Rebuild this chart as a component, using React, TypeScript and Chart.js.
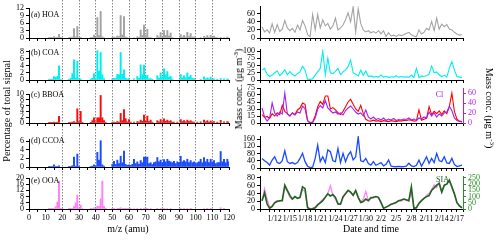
import React, { useEffect, useMemo, useRef } from "react";
import { Chart, registerables } from "chart.js";
Chart.register(...registerables);

const SERIF = "'Liberation Serif', 'Times New Roman', Times, serif";

// ---------------- Mass spectra: percentage of total signal ----------------
const hoaMz = [12, 13, 14, 15, 16, 17, 18, 19, 24, 25, 26, 27, 28, 29, 30, 31, 37, 38, 39, 40, 41, 42, 43, 44, 45, 50, 51, 52, 53, 54, 55, 56, 57, 58, 59, 63, 65, 66, 67, 68, 69, 70, 71, 72, 73, 77, 78, 79, 80, 81, 82, 83, 84, 85, 86, 91, 92, 93, 94, 95, 96, 97, 98, 99, 103, 105, 106, 107, 108, 109, 110, 111, 112, 113, 115, 117, 119, 120];
const hoaPct = [0.1, 0.1, 0.2, 0.6, 0.2, 0.3, 1.5, 0.1, 0.1, 0.2, 0.4, 3.8, 0.5, 4.6, 0.2, 0.1, 0.2, 0.3, 1.2, 0.3, 8.2, 1.0, 10.6, 0.5, 0.2, 0.2, 0.4, 0.2, 0.8, 0.6, 9.0, 1.2, 8.6, 0.4, 0.2, 0.2, 0.5, 0.3, 3.2, 1.0, 5.2, 1.0, 3.5, 0.3, 0.2, 1.0, 0.4, 2.2, 0.5, 3.0, 1.0, 3.0, 0.8, 2.0, 0.2, 1.4, 0.4, 1.1, 0.4, 2.3, 0.6, 1.8, 0.4, 0.5, 0.2, 0.7, 0.3, 1.0, 0.3, 1.1, 0.3, 0.8, 0.1, 0.2, 0.3, 0.2, 0.4, 0.2];

const coaMz = [12, 13, 14, 15, 16, 17, 18, 19, 24, 25, 26, 27, 28, 29, 30, 31, 37, 38, 39, 40, 41, 42, 43, 44, 45, 50, 51, 52, 53, 54, 55, 56, 57, 58, 59, 60, 63, 65, 66, 67, 68, 69, 70, 71, 72, 73, 74, 77, 78, 79, 80, 81, 82, 83, 84, 85, 86, 91, 92, 93, 94, 95, 96, 97, 98, 99, 103, 105, 106, 107, 108, 109, 110, 111, 113, 115, 117, 119, 120];
const coaPct = [0.1, 0.1, 0.2, 1.0, 0.8, 1.0, 4.0, 0.1, 0.2, 0.5, 1.8, 5.7, 0.6, 5.3, 0.3, 0.3, 0.3, 0.5, 1.8, 0.4, 8.3, 2.5, 7.8, 1.5, 0.4, 0.3, 0.5, 0.4, 1.6, 1.5, 7.8, 1.6, 2.9, 0.5, 0.3, 0.4, 0.3, 1.0, 0.5, 4.3, 1.5, 4.2, 1.0, 1.3, 0.3, 0.4, 0.2, 1.2, 0.5, 2.0, 0.8, 3.2, 1.5, 2.4, 0.8, 1.0, 0.3, 1.6, 0.6, 1.2, 0.6, 2.0, 0.8, 1.3, 0.5, 0.4, 0.2, 0.9, 0.3, 0.6, 0.3, 0.8, 0.2, 0.3, 0.2, 0.4, 0.3, 0.3, 0.2];

const bboaMz = [12, 13, 14, 15, 16, 17, 18, 24, 25, 26, 27, 28, 29, 30, 31, 32, 37, 38, 39, 40, 41, 42, 43, 44, 45, 46, 50, 51, 52, 53, 54, 55, 56, 57, 58, 59, 60, 61, 63, 65, 66, 67, 68, 69, 70, 71, 72, 73, 74, 77, 78, 79, 80, 81, 82, 83, 84, 85, 86, 87, 89, 91, 92, 93, 94, 95, 96, 97, 98, 99, 101, 103, 105, 106, 107, 108, 109, 110, 111, 113, 115, 117, 119, 120];
const bboaPct = [0.1, 0.1, 0.2, 0.3, 0.2, 0.3, 2.3, 0.1, 0.2, 0.3, 0.5, 0.2, 4.9, 0.4, 4.0, 0.1, 0.2, 0.8, 1.8, 0.3, 1.8, 1.8, 9.5, 1.8, 0.8, 0.2, 0.2, 0.3, 0.2, 0.5, 0.3, 3.3, 0.8, 4.6, 1.5, 0.4, 1.2, 0.3, 0.3, 0.5, 0.3, 1.0, 0.6, 2.7, 0.6, 2.4, 0.5, 1.0, 0.3, 0.8, 0.4, 1.2, 0.4, 1.4, 0.6, 1.0, 0.5, 0.8, 0.3, 0.3, 0.3, 1.2, 0.5, 0.8, 0.4, 1.0, 0.5, 0.8, 0.4, 0.3, 0.3, 0.4, 1.0, 0.4, 0.8, 0.3, 0.7, 0.3, 0.5, 0.3, 0.9, 0.4, 0.5, 0.3];

const ccoaMz = [12, 13, 14, 15, 16, 17, 18, 24, 25, 26, 27, 28, 29, 30, 37, 38, 39, 40, 41, 42, 43, 44, 45, 50, 51, 52, 53, 54, 55, 56, 57, 58, 59, 60, 61, 62, 63, 64, 65, 66, 67, 68, 69, 70, 71, 72, 73, 74, 75, 76, 77, 78, 79, 80, 81, 82, 83, 84, 85, 86, 87, 88, 89, 90, 91, 92, 93, 94, 95, 96, 97, 98, 99, 100, 101, 102, 103, 104, 105, 106, 107, 108, 109, 110, 111, 112, 113, 114, 115, 116, 117, 118, 119, 120];
const ccoaPct = [0.1, 0.1, 0.1, 0.5, 0.1, 0.1, 0.3, 0.1, 0.1, 0.3, 2.3, 0.2, 3.0, 0.1, 0.1, 0.2, 0.5, 0.2, 3.4, 1.6, 6.1, 0.5, 0.2, 0.6, 1.3, 0.6, 1.6, 0.8, 2.5, 1.0, 3.7, 0.6, 0.4, 0.5, 0.4, 0.6, 1.8, 0.8, 1.2, 0.6, 1.5, 1.0, 2.3, 2.3, 2.3, 0.8, 1.0, 0.6, 1.0, 1.2, 2.2, 1.2, 1.6, 1.0, 1.7, 1.2, 1.8, 1.4, 1.2, 1.0, 1.3, 0.8, 1.2, 1.0, 2.5, 1.2, 1.5, 1.2, 1.8, 1.0, 1.5, 1.0, 1.2, 0.8, 1.0, 1.2, 1.8, 1.0, 2.2, 1.2, 1.8, 1.0, 1.8, 1.2, 1.5, 0.8, 1.0, 1.0, 3.6, 1.2, 1.8, 1.0, 1.8, 1.2];

const ooaMz = [12, 13, 14, 15, 16, 17, 18, 19, 20, 24, 25, 26, 27, 28, 29, 30, 31, 32, 37, 38, 39, 40, 41, 42, 43, 44, 45, 46, 50, 51, 53, 54, 55, 56, 57, 58, 59, 60, 61, 63, 65, 67, 69, 70, 71, 73, 77, 79, 81, 83, 85, 91, 93, 95, 97, 105, 107, 109, 115, 117];
const ooaPct = [0.2, 0.1, 0.2, 0.3, 1.5, 4.5, 18.0, 0.2, 0.3, 0.1, 0.2, 0.5, 1.5, 4.0, 9.0, 0.8, 2.5, 0.3, 0.2, 0.3, 0.8, 0.5, 1.8, 1.5, 6.5, 18.0, 1.8, 0.5, 0.1, 0.2, 0.4, 0.2, 0.8, 0.3, 0.5, 0.2, 0.3, 0.4, 0.2, 0.3, 0.3, 0.4, 0.5, 0.2, 0.4, 0.3, 0.4, 0.3, 0.4, 0.3, 0.3, 0.4, 0.2, 0.3, 0.2, 0.3, 0.2, 0.2, 0.8, 0.2];

const mzTickLabels = [0, 10, 20, 30, 40, 50, 60, 70, 80, 90, 100, 110, 120];

// ---------------- Time series (12-hourly, day of year; Jan 9 12:00 onward) ----------------
const SERIES_START_DAY = 9.5;
const SERIES_STEP_DAY = 0.5;
const hoaConc = [28, 15, 20, 12, 35, 14, 33, 16, 22, 43, 25, 18, 24, 14, 32, 20, 43, 30, 8, 3, 58, 20, 58, 25, 45, 30, 36, 22, 30, 49, 20, 25, 32, 45, 62, 40, 77, 15, 72, 36, 20, 15, 18, 13, 16, 12, 18, 10, 18, 4, 13, 5, 7, 4, 8, 6, 8, 11, 14, 8, 5, 3, 20, 10, 14, 24, 20, 41, 18, 49, 22, 34, 28, 33, 22, 20, 14, 10, 7, 8];
const coaConc = [34, 40, 20, 12, 17, 25, 32, 15, 24, 35, 18, 29, 20, 14, 22, 28, 48, 34, 3, 2, 4, 17, 29, 40, 100, 18, 75, 25, 22, 30, 40, 18, 28, 35, 46, 69, 25, 20, 14, 34, 16, 31, 12, 14, 10, 12, 10, 17, 10, 12, 9, 11, 10, 15, 9, 12, 10, 11, 10, 17, 9, 40, 8, 14, 12, 15, 20, 48, 25, 28, 18, 12, 16, 10, 40, 63, 35, 12, 10, 9];
const bboaConc = [18, 12, 14, 10, 20, 15, 22, 18, 38, 25, 20, 15, 22, 18, 28, 32, 43, 40, 5, 1, 2, 15, 35, 46, 40, 58, 58, 30, 33, 28, 22, 18, 25, 35, 45, 51, 40, 30, 25, 38, 20, 8, 5, 4, 6, 4, 5, 3, 5, 4, 3, 5, 4, 3, 5, 4, 6, 5, 7, 6, 4, 5, 28, 6, 8, 10, 35, 18, 25, 20, 26, 18, 26, 20, 35, 64, 25, 8, 4, 3];
const clConc = [30, 12, 4, 10, 40, 20, 14, 22, 18, 60, 18, 14, 20, 16, 22, 20, 34, 28, 4, 0, 1, 10, 28, 35, 30, 45, 30, 25, 20, 22, 18, 20, 16, 25, 30, 34, 28, 22, 18, 20, 14, 26, 12, 8, 12, 7, 9, 6, 10, 5, 8, 6, 9, 5, 7, 6, 8, 7, 10, 6, 8, 5, 10, 8, 12, 10, 22, 14, 20, 12, 18, 14, 20, 22, 33, 25, 10, 5, 3, 2];
const ccoaConc = [53, 40, 30, 16, 44, 62, 30, 25, 40, 95, 35, 25, 30, 22, 30, 53, 81, 35, 10, 2, 5, 53, 127, 35, 62, 30, 100, 90, 40, 35, 108, 30, 81, 35, 72, 90, 45, 62, 172, 40, 35, 53, 25, 16, 35, 15, 22, 30, 12, 20, 44, 10, 8, 7, 9, 7, 8, 10, 26, 12, 8, 15, 44, 10, 35, 62, 25, 53, 30, 81, 40, 35, 62, 28, 25, 53, 20, 8, 12, 16];
const ooaConc = [20, 52, 25, 5, 8, 18, 22, 20, 25, 55, 45, 30, 25, 32, 28, 30, 50, 45, 5, 0, 2, 5, 12, 18, 25, 30, 40, 60, 35, 25, 15, 12, 28, 42, 48, 42, 35, 45, 30, 18, 25, 45, 22, 30, 28, 32, 28, 15, 3, 5, 8, 12, 15, 18, 22, 20, 25, 22, 20, 45, 2, 4, 15, 22, 28, 35, 40, 50, 62, 55, 70, 45, 60, 65, 72, 55, 40, 15, 8, 3];
const siaConc = [67, 130, 40, 5, 20, 50, 60, 67, 67, 192, 150, 110, 80, 100, 85, 94, 178, 164, 10, 0, 2, 10, 33, 50, 67, 94, 122, 105, 117, 94, 40, 39, 100, 122, 150, 136, 110, 150, 94, 53, 60, 80, 67, 89, 95, 100, 94, 53, 5, 15, 25, 39, 45, 53, 67, 72, 80, 75, 67, 178, 5, 10, 45, 67, 85, 100, 108, 150, 170, 192, 206, 136, 192, 200, 233, 180, 122, 53, 25, 10];
const dateLabelDays = [12, 15, 18, 21, 24, 27, 30, 33, 36, 39, 42, 45, 48];

// ---------------- helpers ----------------
const tickFont = { family: SERIF, size: 8 };
const fixW = (w: number) => (s: any) => { s.width = w; s.paddingTop = 0; s.paddingBottom = 0; };
const fixH = (h: number) => (s: any) => { s.height = h; s.paddingLeft = 0; s.paddingRight = 0; };
const fmtDate = (d: number) => (d <= 31 ? `1/${d}` : `2/${d - 31}`);
const toPoints = (vals: number[]) => vals.map((v, i) => ({ x: SERIES_START_DAY + i * SERIES_STEP_DAY, y: v }));

const PAD_TOP = 6;
const LEFT_CANVAS_W = 250;
const RIGHT_CANVAS_X = 236;
const RIGHT_CANVAS_W = 264;

function yTicks(step: number, lastLabel: number, color: string) {
  return {
    stepSize: step, includeBounds: false, autoSkip: false, font: tickFont, color, padding: 2,
    callback: (v: number) => (v <= lastLabel + 1e-9 ? String(v) : ""),
  };
}

function specConfig(p: any) {
  return {
    type: "bar",
    data: {
      datasets: [{
        data: p.mz.map((m: number, i: number) => ({ x: m, y: p.pct[i] })),
        backgroundColor: p.color,
        borderWidth: 0,
        barThickness: 1.3,
      }],
    },
    options: {
      animation: false, responsive: false, events: [],
      layout: { padding: { left: 0, right: 21, top: PAD_TOP, bottom: 0 } },
      plugins: { legend: { display: false }, tooltip: { enabled: false } },
      scales: {
        x: {
          type: "linear", min: 0, max: 120, offset: false,
          ticks: {
            stepSize: 5, display: p.labels, autoSkip: false, maxRotation: 0, minRotation: 0,
            font: tickFont, color: "#000", padding: 1,
            callback: (v: number) => (mzTickLabels.includes(v) ? String(v) : ""),
          },
          grid: { offset: false, drawOnChartArea: false, drawTicks: true, tickLength: 3, tickColor: "#000", color: "#000" },
          border: { color: "#000", width: 1 },
          afterFit: fixH(p.labels ? 14 : 3),
        },
        y: {
          min: 0, max: p.max,
          ticks: yTicks(p.step, p.lastLabel, "#000"),
          grid: { drawOnChartArea: false, tickLength: 3, tickColor: "#000" },
          border: { color: "#000", width: 1 },
          afterFit: fixW(29),
        },
      },
    },
  };
}

function tsConfig(p: any) {
  const datasets: any[] = p.series.map((s: any) => ({
    data: toPoints(s.values), borderColor: s.color, borderWidth: s.width || 1.1,
    pointRadius: 0, tension: 0, fill: false, yAxisID: s.axis || "y",
  }));
  const scales: any = {
    x: {
      type: "linear", min: 9.1, max: 49.2,
      ticks: {
        stepSize: 1, display: p.labels, autoSkip: false, maxRotation: 0, minRotation: 0,
        font: tickFont, color: "#000", padding: 2,
        callback: (v: number) => (dateLabelDays.includes(v) ? fmtDate(v) : ""),
      },
      grid: { drawOnChartArea: false, drawTicks: true, tickLength: 3, tickColor: "#000", color: "#000" },
      border: { color: "#000", width: 1 },
      afterFit: fixH(p.labels ? 14 : 3),
    },
    y: {
      min: 0, max: p.max,
      ticks: yTicks(p.step, p.lastLabel, "#000"),
      grid: { drawOnChartArea: false, tickLength: 3, tickColor: "#000" },
      border: { color: "#000", width: 1 },
      afterFit: fixW(24),
    },
  };
  if (p.right) {
    scales.y2 = {
      position: "right", min: 0, max: p.right.max,
      ticks: yTicks(p.right.step, p.right.lastLabel, p.right.color),
      grid: { drawOnChartArea: false, tickLength: 3, tickColor: p.right.color },
      border: { color: p.right.color, width: 1 },
      afterFit: fixW(37),
    };
  }
  return {
    type: "line",
    data: { datasets },
    options: {
      animation: false, responsive: false, events: [],
      layout: { padding: { left: 0, right: p.right ? 0 : 37, top: PAD_TOP, bottom: 0 } },
      plugins: { legend: { display: false }, tooltip: { enabled: false } },
      scales,
    },
  };
}

function gridConfig() {
  return {
    type: "scatter",
    data: { datasets: [] },
    options: {
      animation: false, responsive: false, events: [],
      layout: { padding: { left: 29, right: 21, top: 0, bottom: 6 } },
      plugins: { legend: { display: false }, tooltip: { enabled: false } },
      scales: {
        x: {
          type: "linear", min: 0, max: 120,
          ticks: { stepSize: 10, display: false },
          grid: {
            drawTicks: false, lineWidth: 1,
            color: (c: any) => (c.tick && c.tick.value >= 20 && c.tick.value <= 110 ? "#8a8a8a" : "rgba(0,0,0,0)"),
          },
          border: { display: false, dash: [1.5, 1.5] },
          afterFit: fixH(0),
        },
        y: { display: false, min: 0, max: 1 },
      },
    },
  };
}

function ChartBox({ left, top, width, height, config }: any) {
  const ref = useRef<HTMLCanvasElement | null>(null);
  useEffect(() => {
    if (!ref.current) return;
    const chart = new Chart(ref.current, config);
    return () => chart.destroy();
  }, [config]);
  return (
    <canvas ref={ref} width={width} height={height}
      style={{ position: "absolute", left, top, width, height }} />
  );
}

function Txt({ x, y, size = 8, color = "#000", rotate = 0, anchor = "center", children }: any) {
  const tx = anchor === "left" ? "0" : "-50%";
  return (
    <div style={{
      position: "absolute", left: x, top: y, transform: `translate(${tx}, -50%) rotate(${rotate}deg)`,
      fontFamily: SERIF, fontSize: size, lineHeight: 1, color, whiteSpace: "nowrap",
    }}>{children}</div>
  );
}

const MassTitle = () => (
  <span>Mass conc. (μg m<sup style={{ fontSize: "0.7em", lineHeight: 0, verticalAlign: "super" }}>-3</sup>)</span>
);

export default function App() {
  const cfg = useMemo(() => {
    const left = [
      { key: "a", mz: hoaMz, pct: hoaPct, color: "#a3a3a3", max: 12, step: 3, lastLabel: 12, top: 8, bottom: 38, labels: false },
      { key: "b", mz: coaMz, pct: coaPct, color: "#00eeee", max: 8.5, step: 2, lastLabel: 8, top: 50, bottom: 80, labels: false },
      { key: "c", mz: bboaMz, pct: bboaPct, color: "#ff0a0a", max: 10, step: 2, lastLabel: 10, top: 94, bottom: 123, labels: false },
      { key: "d", mz: ccoaMz, pct: ccoaPct, color: "#1a4cff", max: 6.5, step: 2, lastLabel: 6, top: 139, bottom: 167, labels: false },
      { key: "e", mz: ooaMz, pct: ooaPct, color: "#ff80f4", max: 20, step: 4, lastLabel: 20, top: 178, bottom: 209, labels: true },
    ].map((p) => ({
      key: p.key, top: p.top - PAD_TOP,
      height: PAD_TOP + (p.bottom - p.top) + (p.labels ? 14 : 3),
      config: specConfig(p),
    }));
    const right = [
      { key: "ra", top: 6, bottom: 38, max: 79, step: 20, lastLabel: 60, labels: false,
        series: [{ values: hoaConc, color: "#a3a3a3" }] },
      { key: "rb", top: 49, bottom: 80, max: 107, step: 25, lastLabel: 100, labels: false,
        series: [{ values: coaConc, color: "#00eeee" }] },
      { key: "rc", top: 88, bottom: 123, max: 75, step: 15, lastLabel: 75, labels: false,
        right: { max: 70, step: 20, lastLabel: 60, color: "#b01ef0" },
        series: [{ values: clConc, color: "#a81ef0", axis: "y2" }, { values: bboaConc, color: "#ff0000" }] },
      { key: "rd", top: 136, bottom: 168, max: 177, step: 40, lastLabel: 160, labels: false,
        series: [{ values: ccoaConc, color: "#1a4cff", width: 1.3 }] },
      { key: "re", top: 176, bottom: 209, max: 85, step: 20, lastLabel: 80, labels: true,
        right: { max: 266, step: 50, lastLabel: 250, color: "#2a8a2a" },
        series: [{ values: siaConc, color: "#1c661c", axis: "y2", width: 1.6 }, { values: ooaConc, color: "#ff86f0", width: 1.3 }] },
    ].map((p) => ({
      key: p.key, top: p.top - PAD_TOP,
      height: PAD_TOP + (p.bottom - p.top) + (p.labels ? 14 : 3),
      config: tsConfig(p),
    }));
    return { left, right, grid: gridConfig() };
  }, []);

  return (
    <div style={{ position: "absolute", left: 0, top: 0, width: 500, height: 240, background: "#fff", overflow: "hidden" }}>
      <ChartBox left={0} top={0} width={LEFT_CANVAS_W} height={215} config={cfg.grid} />
      {cfg.left.map((p) => (
        <ChartBox key={p.key} left={0} top={p.top} width={LEFT_CANVAS_W} height={p.height} config={p.config} />
      ))}
      {cfg.right.map((p) => (
        <ChartBox key={p.key} left={RIGHT_CANVAS_X} top={p.top} width={RIGHT_CANVAS_W} height={p.height} config={p.config} />
      ))}
      <Txt x={31} y={15} anchor="left">(a) HOA</Txt>
      <Txt x={31} y={52.5} anchor="left">(b) COA</Txt>
      <Txt x={31} y={94.5} anchor="left">(c) BBOA</Txt>
      <Txt x={31} y={141} anchor="left">(d) CCOA</Txt>
      <Txt x={31} y={181} anchor="left">(e) OOA</Txt>
      <Txt x={439.5} y={94.5} color="#a81ef0">Cl</Txt>
      <Txt x={442.5} y={179.5} color="#1c661c">SIA</Txt>
      <Txt x={7} y={111} size={10} rotate={-90}>Percentage of total signal</Txt>
      <Txt x={128} y={229} size={10}>m/z (amu)</Txt>
      <Txt x={371} y={229} size={10}>Date and time</Txt>
      <Txt x={239} y={89} size={10} rotate={-90}><MassTitle /></Txt>
      <Txt x={489} y={108} size={10} rotate={90}><MassTitle /></Txt>
    </div>
  );
}
